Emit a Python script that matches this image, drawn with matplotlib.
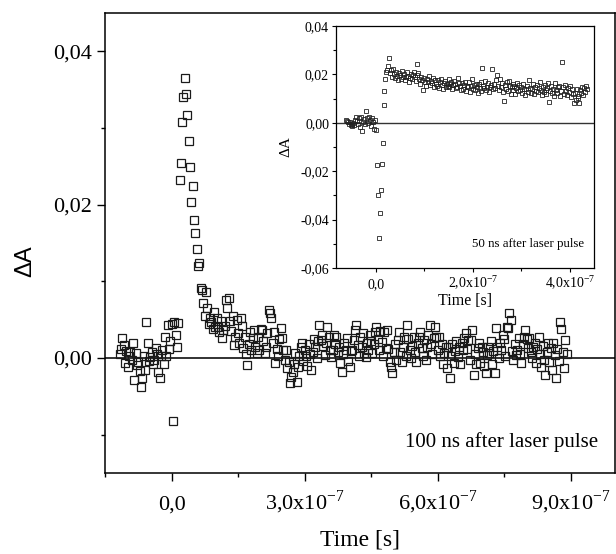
import numpy as np
import matplotlib
matplotlib.use("Agg")
import matplotlib.pyplot as plt
from matplotlib.ticker import MultipleLocator, FuncFormatter

plt.rcParams['font.family'] = ['Liberation Serif', 'DejaVu Serif']
plt.rcParams['mathtext.fontset'] = 'custom'
plt.rcParams['mathtext.rm'] = 'Liberation Serif'

# ---- main trace: 100 ns after laser pulse (dA in units of 1e-3) ----
t0_main = -117e-9      # first sample
dt_main = 3e-9         # sampling step
dA_main = [
    0.5, 1.2, 2.6, 1.7, -0.6, 0.9, -1.2, 0.2, 0.8, -0.3,
    1.9, -2.9, 0.7, -0.9, -0.5, -1.7, -3.8, -2.6, 0.3, -1.6,
    4.7, 2.0, -0.4, 0.1, 0.8, -0.8, -0.3, 1.3, 0.5, -1.8,
    -2.6, 0.3, 1.0, -0.8, 2.7, 0.2, 4.3, 1.2, 2.2, 4.4,
    -8.2, 4.7, 3.0, 1.5, 4.6, 23.2, 25.4, 30.8, 34.0, 36.5,
    34.4, 31.7, 28.3, 24.9, 20.3, 22.4, 18.0, 16.3, 14.2, 12.0,
    12.4, 9.1, 8.9, 7.2, 5.5, 8.6, 6.5, 4.5, 5.2, 4.7,
    3.8, 6.0, 4.0, 5.2, 4.0, 3.4, 4.8, 2.6, 3.6, 4.2,
    7.6, 6.5, 7.8, 4.8, 3.5, 5.5, 1.7, 2.7, 5.0, 3.2,
    2.0, 5.2, 4.2, 1.3, 2.8, 0.5, -0.9, 1.8, 3.4, 1.0,
    2.6, 3.6, 1.4, 0.6, 2.8, 1.0, 3.8, 3.6, 2.2, 0.7,
    1.5, 3.2, 6.2, 5.9, 5.2, 2.0, 3.4, -0.7, 1.2, 0.3,
    2.5, 3.9, 2.6, 1.0, -0.3, 1.0, -1.3, -0.5, -3.3, -2.5,
    -1.8, -0.8, 0.6, -3.1, -1.2, 0.2, 1.5, 2.0, -0.4, 1.0,
    0.3, -1.0, 1.8, 0.5, -1.6, 0.8, 2.5, 1.5, 0.0, 2.2,
    4.3, 2.3, 3.0, 1.6, 0.4, 2.0, 4.0, 2.8, 1.1, 0.1,
    1.0, 3.0, 1.8, 2.7, 0.8, 1.5, -0.6, -1.8, 0.5, 2.0,
    1.0, 2.6, -0.4, -1.2, 0.9, 1.0, 2.4, 3.6, 4.3, 1.7,
    0.2, 2.8, 1.5, 3.3, 0.6, 0.1, 2.0, 1.0, 3.0, 2.2,
    0.6, 1.8, 3.4, 4.0, 2.5, 1.0, 3.5, 2.1, 0.3, 3.4,
    1.3, 3.6, 1.2, -0.5, -1.2, -2.0, 0.8, 1.8, -0.3, 2.4,
    3.4, 0.8, -0.5, 1.5, 2.8, 0.2, 4.3, 2.5, 1.0, 0.0,
    1.6, 2.8, 0.8, -0.5, 1.9, 2.8, 3.4, 1.3, 0.2, 2.4,
    -0.3, 1.5, 3.0, 4.3, 1.8, 0.5, 2.6, 4.0, 2.7, 1.0,
    2.7, 0.2, 1.8, -0.8, 0.6, 1.4, -1.3, 1.4, -2.6, 0.3,
    1.8, -0.6, 0.9, 2.2, 0.1, 1.5, -0.8, 2.0, 1.0, 2.6,
    3.3, 1.2, 2.4, -0.3, 2.3, 3.6, -2.2, 0.5, -0.8, 1.3,
    2.0, -0.6, 1.4, 0.8, -1.0, -2.0, 0.4, 1.5, 0.6, 2.2,
    -0.8, 0.9, -2.0, 3.9, 1.4, 0.0, 2.0, 1.0, 3.0, 2.5,
    0.2, 4.0, 3.9, 5.9, 5.0, 0.9, -0.3, 1.8, 0.4, 1.0,
    2.6, 0.5, -0.6, 1.8, 2.8, 3.6, 2.5, 1.3, 2.6, 0.8,
    0.0, 1.4, 2.0, -0.6, 1.2, 2.8, 0.5, -1.2, 1.6, -0.2,
    -2.2, 0.8, 1.9, -0.5, 1.3, -1.5, 2.0, 0.4, -2.6, 1.2,
    -0.4, 4.7, 3.8, 0.8, -1.3, 2.3, 0.5,
]

# ---- inset trace: 50 ns after laser pulse (dA in units of 1e-3) ----
t0_ins = -62e-9
dt_ins = 2e-9
dA_ins = [
    1.2, 0.6, 0.2, -0.5, 0.4, -1.0, -0.3, -1.3, 0.0, -0.8,
    1.0, 2.6, 0.8, -0.6, 1.9, -1.8, 2.2, -3.4, 0.5, 1.4,
    -0.6, 4.9, 1.9, -0.2, 2.3, 1.0, -1.2, 1.8, 0.5, -2.6,
    1.3, -2.9, -17.6, -29.8, -47.6, -37.4, -27.8, -17.0, -8.2, 7.3,
    13.2, 18.0, 21.0, 21.8, 23.5, 26.8,
    20.5, 21.8, 19.0, 22.3, 20.1, 18.6, 21.0, 19.4, 17.8, 20.6,
    19.9, 18.2, 21.3, 19.0, 20.2, 17.5, 18.8, 20.9, 19.3, 16.9,
    18.5, 20.0, 18.1, 19.6, 21.1, 18.9, 17.4, 19.8, 24.3, 20.4,
    18.3, 16.2, 19.0, 17.6, 13.6, 18.7, 16.9, 15.4, 18.1, 17.0,
    19.2, 15.8, 17.3, 16.4, 18.6, 14.9, 17.8, 16.0, 15.2, 17.5,
    14.3, 16.8, 18.0, 15.6, 13.9, 16.5, 17.2, 14.8, 16.1, 15.3,
    17.9, 14.6, 15.9, 16.7, 13.8, 15.5, 17.4, 16.2, 14.4, 15.0,
    18.6, 16.3,
    15.2, 13.7, 16.6, 14.1, 15.8, 17.0, 13.2, 15.4, 14.6, 16.9,
    12.8, 15.1, 18.3, 14.0, 15.7, 13.5, 16.2, 14.8, 12.3, 15.9,
    14.4, 16.8, 13.1, 22.7, 15.3, 14.2, 17.1, 13.6, 15.0, 16.4,
    12.9, 14.7, 15.6, 22.2, 13.8, 16.0, 14.5, 17.8, 19.6, 15.2,
    13.4, 18.1, 14.9, 16.3, 12.6, 9.1, 15.5, 14.0, 16.7, 13.3,
    17.2, 15.1, 12.0, 14.8, 16.1, 13.7, 15.4, 11.9, 14.3, 16.6,
    13.0, 15.8,
    13.5, 15.0, 12.4, 16.2, 14.1, 11.6, 13.8, 15.3, 12.9, 17.6,
    14.4, 12.2, 13.9, 16.0, 11.8, 14.7, 13.1, 15.5, 12.6, 14.2,
    16.8, 13.4, 11.3, 14.9, 12.7, 15.8, 13.6, 12.0, 14.5, 16.3,
    8.7, 13.2, 15.1, 12.5, 14.0, 11.1, 16.5, 13.7, 12.3, 14.6,
    15.4, 10.9, 13.3, 25.3, 14.8, 12.1, 15.6, 13.0, 11.5, 14.3,
    12.8, 15.2, 10.6, 13.9, 11.9, 8.2, 12.4, 9.6, 14.1, 10.3,
    11.0, 8.0, 13.6, 12.2, 15.0, 11.4, 14.4, 12.7, 15.3, 13.8,
]

main_xticks = [0.0, 3e-7, 6e-7, 9e-7]
ins_xticks = [0.0, 2e-7, 4e-7]

t_main = t0_main + dt_main * np.arange(len(dA_main))
y_main = np.array(dA_main) * 1e-3
t_ins = t0_ins + dt_ins * np.arange(len(dA_ins))
y_ins = np.array(dA_ins) * 1e-3


def xlab(v):
    if abs(v) < 1e-12:
        return '0,0'
    return ('%.1f' % (v / 1e-7)).replace('.', ',') + r'x10$^{\mathregular{-7}}$'


def ylab(v, pos):
    if abs(v) < 1e-9:
        return '0,00'
    return ('%.2f' % v).replace('.', ',')


fig = plt.figure(figsize=(6.16, 5.54), dpi=100)

# main axes
ax = fig.add_axes([105 / 616, 81 / 554, 510 / 616, 460 / 554])
ax.axhline(0, color='#222222', lw=1.3, zorder=1)
ax.plot(t_main, y_main, 's', ms=5.2, mfc='none', mec='#1a1a1a', mew=0.9, zorder=2)
ax.set_xlim(-1.5e-7, 1.0e-6)
ax.set_ylim(-0.015, 0.045)
ax.set_xticks(main_xticks)
ax.set_xticklabels([xlab(v) for v in main_xticks])
ax.xaxis.set_minor_locator(MultipleLocator(1.5e-7))
ax.yaxis.set_major_locator(MultipleLocator(0.02))
ax.yaxis.set_minor_locator(MultipleLocator(0.01))
ax.yaxis.set_major_formatter(FuncFormatter(ylab))
ax.tick_params(which='both', direction='out', top=False, right=False, width=1.0)
ax.tick_params(which='major', length=6)
ax.tick_params(which='minor', length=3)
ax.tick_params(axis='y', labelsize=16, pad=3)
ax.tick_params(axis='x', labelsize=16, pad=20)
for lab in ax.get_xticklabels():
    lab.set_va('baseline')
for s in ax.spines.values():
    s.set_linewidth(1.1)
ax.set_xlabel('Time [s]', fontsize=17)
ax.xaxis.set_label_coords(0.5, -0.122)
ax.text(0.967, 0.0565, '100 ns after laser pulse', transform=ax.transAxes,
        ha='right', va='baseline', fontsize=15)
fig.text(25 / 616, 1 - 261 / 554, '\u0394A', rotation=90, ha='center', va='center',
         fontsize=17, family=['Liberation Sans', 'DejaVu Sans'])

# inset
ax2 = fig.add_axes([336 / 616, (554 - 268) / 554, 258 / 616, 242 / 554])
ax2.axhline(0, color='#333333', lw=1.0, zorder=1)
ax2.plot(t_ins, y_ins, 's', ms=3.0, mfc='none', mec='#222222', mew=0.6, zorder=2)
ax2.set_xlim(-8.2e-8, 4.5e-7)
ax2.set_ylim(-0.06, 0.04)
ax2.set_xticks(ins_xticks)
ax2.set_xticklabels([xlab(v) for v in ins_xticks])
ax2.xaxis.set_minor_locator(MultipleLocator(1e-7))
ax2.yaxis.set_major_locator(MultipleLocator(0.02))
ax2.yaxis.set_minor_locator(MultipleLocator(0.01))
ax2.yaxis.set_major_formatter(FuncFormatter(ylab))
ax2.tick_params(which='both', direction='out', top=False, right=False, width=0.8)
ax2.tick_params(which='major', length=3)
ax2.tick_params(which='minor', length=2)
ax2.tick_params(axis='y', labelsize=10, pad=2)
ax2.tick_params(axis='x', labelsize=10, pad=11.5)
for lab in ax2.get_xticklabels():
    lab.set_va('baseline')
for s in ax2.spines.values():
    s.set_linewidth(0.9)
ax2.set_xlabel('Time [s]', fontsize=11.5)
ax2.xaxis.set_label_coords(0.5, -0.105)
ax2.set_ylabel('\u0394A', fontsize=11)
ax2.yaxis.set_label_coords(-0.17, 0.5)
ax2.text(0.961, 0.1, '50 ns after laser pulse', transform=ax2.transAxes,
         ha='right', va='center', fontsize=9.3)

fig.savefig('out.png', dpi=100)
